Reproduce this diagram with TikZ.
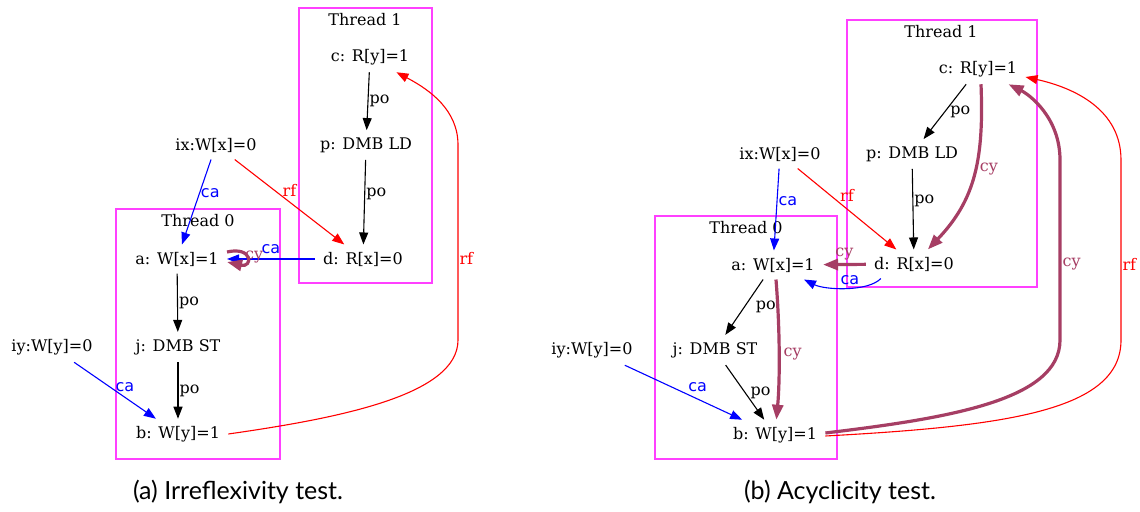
\documentclass[tikz,border=0pt]{standalone}
\usepackage{fontspec}
\setmainfont{DejaVu Serif}
\newfontfamily\capfont{Lato}
\newfontfamily\casans{DejaVu Sans}
\usetikzlibrary{arrows.meta}

\definecolor{cycol}{RGB}{166,62,100}
\definecolor{thcol}{RGB}{255,64,255}

\begin{document}
\begin{tikzpicture}[
    x=0.5pt, y=-0.5pt,
    event/.style={inner xsep=4pt, inner ysep=3.5pt, font=\fontsize{8}{9.5}\selectfont},
    lab/.style={inner sep=0.5pt, font=\fontsize{8}{9.5}\selectfont},
    calab/.style={lab, text=blue, font=\casans\fontsize{8}{9.5}\selectfont},
    rflab/.style={lab, text=red},
    cylab/.style={lab, text=cycol},
    thread/.style={draw=thcol, line width=0.6pt},
    poedge/.style={-{Triangle[length=6pt,width=4.5pt]}, line width=0.55pt},
    caedge/.style={poedge, blue},
    rfedge/.style={poedge, red},
    cyedge/.style={-{Triangle[length=7.5pt,width=5.5pt]}, line width=1.6pt, cycol},
    capt/.style={font=\capfont\fontsize{12.5}{14}\selectfont}
]
    \useasboundingbox (0,0) rectangle (1140,512);

    % (a) Irreflexivity test
    \draw[thread] (299,8) rectangle (432,283);
    \draw[thread] (116,209) rectangle (280,459);
    \node[event] (lt1) at (365,20) {Thread 1};
    \node[event] (lt0) at (198,221) {Thread 0};

    \node[event] (lc) at (370,57) {c: R[y]=1};
    \node[event] (lp) at (366,145) {p: DMB LD};
    \node[event] (ld) at (363,259) {d: R[x]=0};
    \node[event] (lix) at (216,145) {ix:W[x]=0};
    \node[event] (la) at (177,259) {a: W[x]=1};
    \node[event] (lj) at (178,347) {j: DMB ST};
    \node[event] (lb) at (178,434) {b: W[y]=1};
    \node[event] (liy) at (52,347) {iy:W[y]=0};

    \draw[poedge] (lc) -- (lp) node[lab, midway, right] {po};
    \draw[poedge] (lp) -- (ld) node[lab, pos=0.4, right] {po};
    \draw[caedge] (lix) -- (la) node[calab, pos=0.4, right] {ca};
    \draw[rfedge] (lix) -- (ld) node[rflab, midway, above=2pt] {rf};
    \draw[caedge] (ld) -- (la) node[calab, midway, above=2pt] {ca};
    \draw[cyedge] ([yshift=3.5pt]la.east) .. controls +(26,-6) and +(26,6) .. ([yshift=-1.5pt]la.east)
        node[cylab, pos=0.5, right=-2pt] {cy};
    \draw[poedge] (la) -- (lj) node[lab, midway, right] {po};
    \draw[poedge] (lj) -- (lb) node[lab, midway, right] {po};
    \draw[caedge] (liy) -- (lb) node[calab, pos=0.62, above=2pt] {ca};
    \draw[rfedge] (lb.east) .. controls (340,418) and (458,395) .. (458,340)
        -- (458,145) node[rflab, pos=0.42, right] {rf}
        .. controls (458,110) and (430,90) .. (lc.-30);

    \node[capt] (capa) at (238,492) {(a) Irreflexivity test.};

    % (b) Acyclicity test
    \draw[thread] (847,20) rectangle (1037,287);
    \draw[thread] (655,216) rectangle (837,459);
    \node[event] (rt1) at (941,32) {Thread 1};
    \node[event] (rt0) at (746,228) {Thread 0};

    \node[event] (rc) at (978,69) {c: R[y]=1};
    \node[event] (rp) at (912,154) {p: DMB LD};
    \node[event] (rd) at (914,264) {d: R[x]=0};
    \node[event] (rix) at (780,154) {ix:W[x]=0};
    \node[event] (ra) at (773,265) {a: W[x]=1};
    \node[event] (rj) at (715,350) {j: DMB ST};
    \node[event] (rb) at (775,435) {b: W[y]=1};
    \node[event] (riy) at (592,350) {iy:W[y]=0};

    \draw[poedge] (rc) -- (rp) node[lab, midway, right=2pt] {po};
    \draw[poedge] (rp) -- (rd) node[lab, pos=0.4, right] {po};
    \draw[cyedge] ([xshift=1.5pt]rc.south) .. controls (984,160) and (975,200) .. (rd)
        node[cylab, pos=0.45, right=1pt] {cy};
    \draw[caedge] (rix) -- (ra) node[calab, pos=0.4, right] {ca};
    \draw[rfedge] (rix) -- (rd) node[rflab, midway, above=3pt] {rf};
    \draw[cyedge] (rd) -- (ra) node[cylab, midway, above=1pt] {cy};
    \draw[caedge] ([xshift=7.5pt]rd.south west) .. controls (868,292) and (825,290) .. ([xshift=-9.5pt]ra.south east)
        node[calab, pos=0.45, above=1pt] {ca};
    \draw[poedge] (ra) -- (rj) node[lab, midway, right=5pt] {po};
    \draw[cyedge] ([xshift=1.5pt]ra.south) .. controls (780,330) and (780,380) .. (rb)
        node[cylab, midway, right=1pt] {cy};
    \draw[poedge] (rj) -- (rb) node[lab, midway, right=2pt] {po};
    \draw[caedge] (riy) -- (rb) node[calab, pos=0.62, above=3pt] {ca};
    \draw[cyedge] ([yshift=1pt]rb.east) .. controls (950,418) and (1060,400) .. (1060,340)
        -- (1060,160) node[cylab, pos=0.42, right] {cy}
        .. controls (1060,118) and (1030,95) .. (rc);
    \draw[rfedge] ([yshift=-0.5pt]rb.east) .. controls (1010,426) and (1121,410) .. (1121,340)
        -- (1121,160) node[rflab, pos=0.42, right] {rf}
        .. controls (1121,110) and (1075,88) .. ([yshift=-4pt]rc.east);

    \node[capt] (capb) at (840,492) {(b) Acyclicity test.};
\end{tikzpicture}
\end{document}
